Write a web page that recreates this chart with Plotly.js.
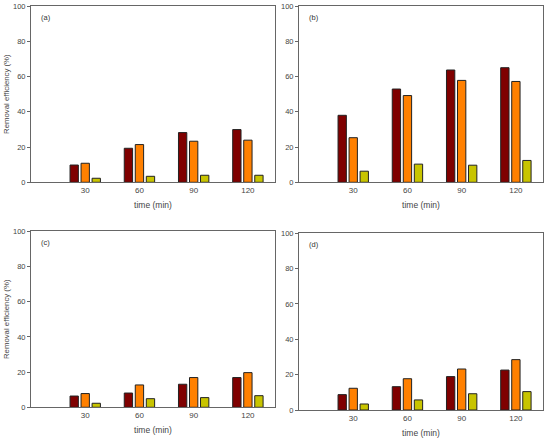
<!DOCTYPE html>
<html>
<head>
<meta charset="utf-8">
<script src="https://cdn.plot.ly/plotly-3.0.1.min.js"></script>
<style>html,body{margin:0;padding:0;background:#fff;}#chart{width:550px;height:443px;}</style>
</head>
<body>
<div id="chart"></div>
<script>
const times = [30, 60, 90, 120];
const tickLabels = ['30', '60', '90', '120'];
const panelLabels = ['(a)', '(b)', '(c)', '(d)'];

// panel (a)
const aRed = [9.8, 19.3, 28.2, 29.9];
const aOrange = [10.8, 21.4, 23.3, 23.9];
const aYellow = [2.3, 3.4, 4.0, 4.0];
// panel (b)
const bRed = [38.0, 52.9, 63.7, 65.0];
const bOrange = [25.3, 49.2, 57.8, 57.2];
const bYellow = [6.3, 10.3, 9.7, 12.4];
// panel (c)
const cRed = [6.4, 8.1, 13.1, 16.9];
const cOrange = [7.8, 12.7, 16.9, 19.7];
const cYellow = [2.3, 4.9, 5.5, 6.6];
// panel (d)
const dRed = [8.7, 13.2, 18.9, 22.6];
const dOrange = [12.3, 17.7, 23.2, 28.5];
const dYellow = [3.4, 5.7, 9.2, 10.4];

const panels = [
  [aRed, aOrange, aYellow],
  [bRed, bOrange, bYellow],
  [cRed, cOrange, cYellow],
  [dRed, dOrange, dYellow]
];
const colors = ['#7f0000', '#ff8000', '#c8c400'];

const traces = [];
panels.forEach((series, p) => {
  const ax = p === 0 ? '' : String(p + 1);
  series.forEach((vals, s) => {
    traces.push({
      type: 'bar',
      x: times,
      y: vals,
      xaxis: 'x' + ax,
      yaxis: 'y' + ax,
      marker: {color: colors[s], line: {color: '#222222', width: 1}},
      showlegend: false,
      hoverinfo: 'y'
    });
  });
});

const W = 550, H = 443;
const boxes = [
  {l: 31, r: 275, t: 6, b: 182.3},
  {l: 299, r: 543, t: 6, b: 182.3},
  {l: 31, r: 275, t: 231.3, b: 407.3},
  {l: 299, r: 543, t: 233.3, b: 410}
];

const fontFam = 'Liberation Sans, Arial, sans-serif';
const layout = {
  width: W, height: H,
  margin: {l: 0, r: 0, t: 0, b: 0},
  paper_bgcolor: '#ffffff',
  plot_bgcolor: '#ffffff',
  barmode: 'group',
  bargap: 0.39,
  bargroupgap: 0.245,
  font: {family: fontFam, size: 8, color: '#444444'},
  annotations: []
};

boxes.forEach((bx, p) => {
  const ax = p === 0 ? '' : String(p + 1);
  layout['xaxis' + ax] = {
    domain: [bx.l / W, bx.r / W],
    anchor: 'y' + ax,
    range: [0, 135],
    tickvals: times,
    ticktext: tickLabels,
    ticks: '',
    showgrid: false,
    zeroline: false,
    showline: true,
    mirror: true,
    linecolor: '#666666',
    linewidth: 1,
    tickfont: {size: 8, color: '#444444'},
    title: {text: 'time (min)', font: {size: 8.5, color: '#444444'}, standoff: 8},
    fixedrange: true
  };
  layout['yaxis' + ax] = {
    domain: [1 - bx.b / H, 1 - bx.t / H],
    anchor: 'x' + ax,
    range: [0, 100],
    tickvals: [0, 20, 40, 60, 80, 100],
    ticks: 'outside',
    ticklen: 3,
    tickcolor: '#666666',
    showgrid: false,
    zeroline: false,
    showline: true,
    mirror: true,
    linecolor: '#666666',
    linewidth: 1,
    tickfont: {size: 7.5, color: '#444444'},
    title: (p === 0 || p === 2) ? {text: 'Removal efficiency (%)', font: {size: 7.8, color: '#444444'}, standoff: 2} : {text: ''},
    fixedrange: true
  };
  layout.annotations.push({
    text: panelLabels[p],
    xref: 'x' + ax + ' domain',
    yref: 'y' + ax + ' domain',
    x: 0.032, y: 0.935,
    xanchor: 'left', yanchor: 'middle',
    showarrow: false,
    font: {size: 7.5, color: '#333333'}
  });
});

Plotly.newPlot('chart', traces, layout, {displayModeBar: false, staticPlot: true});
</script>
</body>
</html>
